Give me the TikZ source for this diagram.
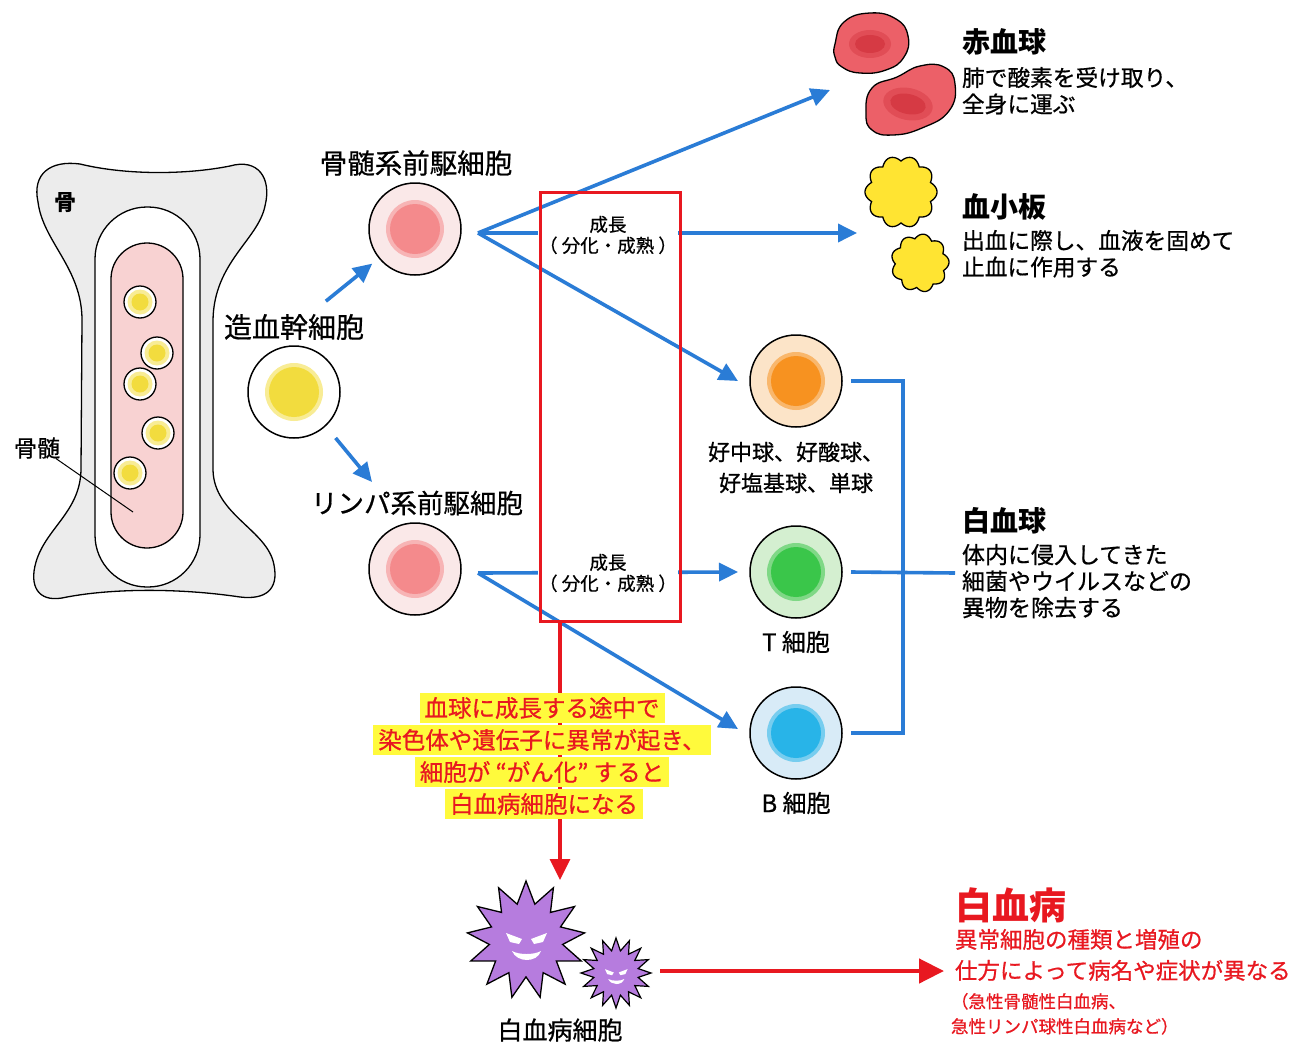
\documentclass[tikz,border=0pt]{standalone}
\usepackage{fontspec}
\setmainfont{Noto Sans CJK JP}[UprightFeatures={FakeBold=0.7}]
\usetikzlibrary{arrows.meta,shapes.geometric}

\definecolor{flowblue}{RGB}{42,124,214}
\definecolor{warnred}{RGB}{232,24,32}
\definecolor{bonegray}{RGB}{236,236,236}
\definecolor{marrowpink}{RGB}{248,210,210}
\definecolor{stemyellow}{RGB}{242,220,62}
\definecolor{progbg}{RGB}{250,232,232}
\definecolor{progcore}{RGB}{244,138,140}
\definecolor{neutbg}{RGB}{252,228,200}
\definecolor{neutcore}{RGB}{247,146,32}
\definecolor{tbg}{RGB}{212,239,208}
\definecolor{tcore}{RGB}{58,198,74}
\definecolor{bbg}{RGB}{216,235,247}
\definecolor{bcore}{RGB}{40,180,232}
\definecolor{rbcout}{RGB}{236,96,104}
\definecolor{rbcin}{RGB}{214,58,68}
\definecolor{pltyellow}{RGB}{255,228,50}
\definecolor{leukpurple}{RGB}{182,124,222}
\definecolor{hilite}{RGB}{255,250,60}

\tikzset{
  every node/.style={inner sep=0pt, outer sep=0pt},
  txt/.style={font=\fontsize{#1}{#1}\selectfont},
  btxt/.style={font=\fontsize{#1}{#1}\selectfont\bfseries},
  cell/.style={circle, draw=black, line width=1.5pt, minimum size=92pt},
  smallcell/.style={circle, draw=black, line width=1.3pt, fill=white, minimum size=32pt},
  flowline/.style={draw=flowblue, line width=3.6pt},
  flowarrow/.style={flowline, -{Triangle[length=19pt,width=18pt]}},
  warnarrow/.style={draw=warnred, line width=3.4pt, -{Triangle[length=21pt,width=20pt]}},
  bigwarnarrow/.style={draw=warnred, line width=4.5pt, -{Triangle[length=25pt,width=24pt]}},
  growthlbl/.style={fill=white, inner sep=1pt},
  hiline/.style={txt=23.5, text=warnred, fill=hilite, inner xsep=5pt, inner ysep=4pt},
  face/.pic={
    \fill[white] (-20,-7) -- (-4,-1) -- (-7,4) -- (-16,2) -- cycle;
    \fill[white] (21,-7) -- (5,-1) -- (8,4) -- (17,2) -- cycle;
    \fill[white] (-14,11) .. controls (-9,23) and (11,23) .. (15,11)
                 .. controls (8,15) and (-7,15) .. cycle;
  }
}

% soft-edged nucleus inside a cell: centre, colour, background, radius
\newcommand\nucleus[4]{%
  \fill[#2!55!#3] (#1) circle (#4+4);
  \fill[#2] (#1) circle (#4);
}

\begin{document}
\begin{tikzpicture}[x=1pt,y=-1pt]
\useasboundingbox (0,0) rectangle (1295,1041);
\fill[white] (0,0) rectangle (1295,1041);

% ---- bone with marrow cavity ----
\draw[fill=bonegray, line width=1.3pt]
  (38,202) .. controls (32,174) and (50,160) .. (80,164)
  .. controls (125,175) and (185,175) .. (230,166)
  .. controls (258,158) and (272,178) .. (265,206)
  .. controls (258,240) and (214,262) .. (213,320)
  -- (213,470)
  .. controls (214,515) and (268,530) .. (274,565)
  .. controls (279,590) and (265,600) .. (240,597)
  .. controls (180,588) and (110,588) .. (62,598)
  .. controls (38,602) and (29,586) .. (36,562)
  .. controls (46,528) and (80,512) .. (81,470)
  -- (82,320)
  .. controls (82,268) and (43,242) .. (38,202) -- cycle;
\draw[fill=white, line width=1.3pt, rounded corners=52pt] (95,207) rectangle (200,587);
\draw[fill=marrowpink, line width=1.3pt, rounded corners=36pt] (111,243) rectangle (183,548);

\foreach \nm/\cx/\cy in {m1/140/302, m3/140/384, m2/157/353, m4/158/433, m5/130/473} {
  \node[smallcell] (\nm) at (\cx,\cy) {};
  \nucleus{\nm}{stemyellow}{white}{8.5}
}

\node[btxt=22] (bonelbl) at (65,203) {骨};
\node[txt=23] (marrowlbl) at (37,448) {骨髄};
\coordinate (marrowpt) at (133,512);
\draw[line width=1pt] ([xshift=-4pt]marrowlbl.south east) -- (marrowpt);

% ---- stem cell and progenitors ----
\node[cell, fill=white] (stem) at (294,392) {};
\nucleus{stem}{stemyellow}{white}{25}
\node[txt=28] (stemlbl) at (294,327) {造血幹細胞};

\node[cell, fill=progbg] (myelo) at (415,229) {};
\nucleus{myelo}{progcore}{progbg}{25}
\node[txt=27.5] (myelolbl) at (416,163) {骨髄系前駆細胞};

\node[cell, fill=progbg] (lympho) at (415,569) {};
\nucleus{lympho}{progcore}{progbg}{25}
\node[txt=26.5] (lympholbl) at (417,503) {リンパ系前駆細胞};

\draw[flowarrow, shorten <=41pt, shorten >=55pt] (stemlbl.center) -- (myelo.center);
\coordinate (lymphin) at (372,482);
\draw[flowarrow, shorten <=16pt] (stem.-47) -- (lymphin);

% ---- mature blood cells ----
\node[cell, fill=neutbg] (neut) at (796,381) {};
\nucleus{neut}{neutcore}{neutbg}{25}
\node[txt=22] (neutlbl1) at (796,452) {好中球、好酸球、};
\node[txt=22] (neutlbl2) at (796,483) {好塩基球、単球};

\node[cell, fill=tbg] (tcell) at (796,572) {};
\nucleus{tcell}{tcore}{tbg}{25}
\node[txt=24] (tlbl) at (796,642) {T 細胞};

\node[cell, fill=bbg] (bcell) at (796,733) {};
\nucleus{bcell}{bcore}{bbg}{25}
\node[txt=24] (blbl) at (796,803) {B 細胞};

% red blood cells
\draw[fill=rbcout, line width=1.3pt] plot[smooth cycle, tension=0.8] coordinates
  {(835,44) (844,22) (870,13) (896,19) (908,36) (904,57) (886,70) (860,73) (842,67) (835,57)};
\fill[rbcout!50!rbcin] (870,44) ellipse (21 and 14);
\fill[rbcin] (870,44) ellipse (15 and 9);
\draw[fill=rbcout, line width=1.3pt] plot[smooth cycle, tension=0.8] coordinates
  {(866,113) (872,88) (897,77) (920,66) (944,67) (955,84) (949,111) (922,128) (893,135) (872,130)};
\fill[rbcout!50!rbcin, rotate around={-12:(908,104)}] (908,104) ellipse (25 and 16);
\fill[rbcin, rotate around={-12:(908,104)}] (908,104) ellipse (18 and 10);
\coordinate (rbcin) at (830,90);

% platelets
\draw[fill=pltyellow, line width=1.3pt] plot[domain=0:360, samples=181]
  ({901+36*(0.86+0.14*abs(cos(5*\x)))*cos(\x)}, {192+36*(0.86+0.14*abs(cos(5*\x)))*sin(\x)}) -- cycle;
\draw[fill=pltyellow, line width=1.3pt] plot[domain=0:360, samples=181]
  ({920+29*(0.85+0.15*abs(cos(4.5*\x+10)))*cos(\x)}, {263+29*(0.85+0.15*abs(cos(4.5*\x+10)))*sin(\x)}) -- cycle;
\coordinate (pltin) at (857,233);

% ---- growth stage ----
\coordinate (mfan) at (478,233);
\coordinate (lfan) at (478,573);
\draw[flowarrow] (mfan) -- (rbcin);
\draw[flowarrow] (mfan) -- (pltin);
\draw[flowarrow] (mfan) -- ([xshift=-12pt]neut.west);
\draw[flowarrow] (lfan) -- ([xshift=-12pt]tcell.west);
\draw[flowarrow] (lfan) -- ([xshift=-12pt,yshift=4pt]bcell.west);

\node[growthlbl, align=center, font=\fontsize{18.5}{21}\selectfont] (grow1) at (608,235) {成長\\（ 分化・成熟 ）};
\node[growthlbl, align=center, font=\fontsize{18.5}{21}\selectfont] (grow2) at (608,573) {成長\\（ 分化・成熟 ）};
\node[draw=warnred, line width=3pt, minimum width=140pt, minimum height=429pt] (growth) at (610,406.5) {};

% white blood cell bracket
\coordinate (wbcin) at (955,573);
\draw[flowline] ([xshift=9pt]neut.east) -- ++(52,0) |- ([xshift=9pt]bcell.east);
\draw[flowline] ([xshift=9pt]tcell.east) -- (wbcin);

% ---- descriptions ----
\node[btxt=28, anchor=west] (rbclbl) at (962,42) {赤血球};
\node[anchor=north west, align=left, font=\fontsize{22.7}{26.5}\selectfont] (rbcdesc) at (962,67) {肺で酸素を受け取り、\\全身に運ぶ};
\node[btxt=28, anchor=west] (pltlbl) at (962,207) {血小板};
\node[anchor=north west, align=left, font=\fontsize{22.7}{26.5}\selectfont] (pltdesc) at (962,230) {出血に際し、血液を固めて\\止血に作用する};
\node[btxt=28, anchor=west] (wbclbl) at (962,521) {白血球};
\node[anchor=north west, align=left, font=\fontsize{23}{26.5}\selectfont] (wbcdesc) at (962,544) {体内に侵入してきた\\細菌やウイルスなどの\\異物を除去する};

% ---- leukemia path ----
\coordinate (leukin) at (560,880);
\draw[warnarrow] ([xshift=-50pt]growth.south) -- (leukin);
\node[hiline] (hl1) at (542,708) {血球に成長する途中で};
\node[hiline] (hl2) at (542,740) {染色体や遺伝子に異常が起き、};
\node[hiline] (hl3) at (542,772) {細胞が “がん化” すると};
\node[hiline] (hl4) at (544,804) {白血病細胞になる};

\node[star, star points=13, star point ratio=1.6, draw=black, line width=1.3pt,
      fill=leukpurple, minimum size=118pt] (leukA) at (526,940) {};
\pic at (526,940) {face};
\node[star, star points=16, star point ratio=1.55, draw=black, line width=1.2pt,
      fill=leukpurple, minimum size=70pt] (leukB) at (616,973) {};
\pic[scale=0.55] at (616,973) {face};
\node[txt=25] (leuklbl) at (560,1030) {白血病細胞};

\coordinate (leukdx) at (944,971);
\draw[bigwarnarrow] ([xshift=9pt]leukB.east |- leukdx) -- (leukdx);

\node[btxt=37, anchor=west, text=warnred] (leukhead) at (955,905) {白血病};
\node[anchor=north west, align=left, text=warnred, font=\fontsize{22.5}{31}\selectfont] (leukdesc) at (955,929) {異常細胞の種類と増殖の\\仕方によって病名や症状が異なる};
\node[anchor=north west, align=left, text=warnred, font=\fontsize{17.5}{25}\selectfont] (leuknote) at (951,993) {（急性骨髄性白血病、\\急性リンパ球性白血病など）};
\end{tikzpicture}
\end{document}
